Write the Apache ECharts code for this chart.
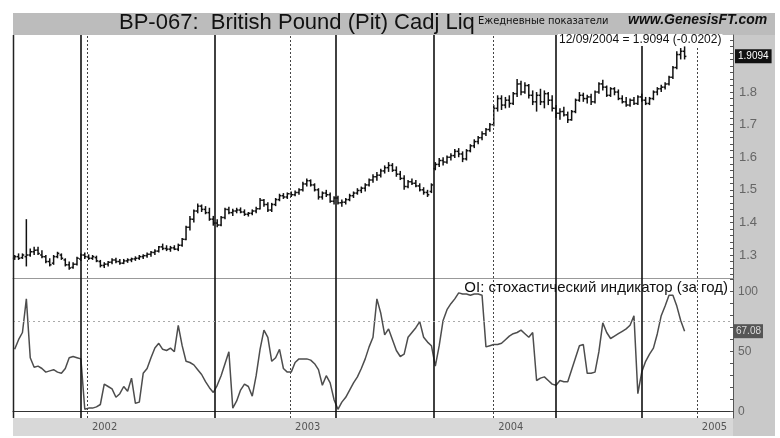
<!DOCTYPE html>
<html><head><meta charset="utf-8">
<script src="https://cdn.jsdelivr.net/npm/echarts@6/dist/echarts.min.js"></script>
<style>html,body{margin:0;padding:0;background:#fff}#c{width:780px;height:438px}</style>
</head><body><div id="c"></div>
<script>
// ---- data (weekly bars, first week 2001-08-24) ----
const firstWeek = '2001-08-24';
const open = [
1.290,1.295,1.292,1.295,1.300,1.310,1.315,1.300,1.295,1.280,
1.275,1.295,1.300,1.285,1.270,1.262,1.272,1.288,1.300,1.295,
1.290,1.292,1.280,1.268,1.272,1.278,1.285,1.280,1.275,1.282,
1.285,1.288,1.290,1.295,1.298,1.302,1.308,1.312,1.325,1.320,
1.318,1.322,1.318,1.330,1.348,1.385,1.410,1.435,1.450,1.440,
1.430,1.410,1.398,1.392,1.415,1.440,1.430,1.435,1.438,1.432,
1.425,1.428,1.435,1.442,1.468,1.455,1.438,1.455,1.470,1.482,
1.478,1.488,1.485,1.492,1.500,1.518,1.528,1.515,1.500,1.478,
1.490,1.485,1.465,1.475,1.460,1.462,1.470,1.482,1.490,1.498,
1.505,1.515,1.530,1.540,1.545,1.558,1.568,1.575,1.560,1.548,
1.535,1.510,1.525,1.520,1.512,1.500,1.492,1.495,1.565,1.578,
1.590,1.585,1.600,1.605,1.618,1.610,1.595,1.620,1.635,1.648,
1.660,1.672,1.685,1.700,1.750,1.780,1.760,1.775,1.765,1.795,
1.825,1.800,1.820,1.790,1.770,1.790,1.770,1.795,1.775,1.750,
1.735,1.740,1.730,1.715,1.740,1.775,1.790,1.780,1.785,1.770,
1.800,1.825,1.815,1.790,1.810,1.800,1.780,1.770,1.760,1.775,
1.765,1.785,1.775,1.765,1.780,1.800,1.810,1.815,1.825,1.845,
1.875,1.915,1.925];
const high = [
1.300,1.305,1.305,1.410,1.320,1.325,1.325,1.315,1.300,1.290,
1.300,1.310,1.305,1.290,1.280,1.278,1.295,1.305,1.308,1.302,
1.300,1.298,1.285,1.278,1.282,1.290,1.292,1.288,1.288,1.290,
1.292,1.296,1.300,1.302,1.308,1.312,1.318,1.328,1.335,1.330,
1.328,1.330,1.335,1.352,1.390,1.420,1.440,1.458,1.455,1.450,
1.445,1.420,1.410,1.420,1.445,1.448,1.442,1.445,1.446,1.440,
1.432,1.440,1.448,1.475,1.472,1.462,1.460,1.475,1.488,1.490,
1.492,1.495,1.498,1.505,1.525,1.535,1.532,1.520,1.505,1.495,
1.500,1.492,1.480,1.482,1.470,1.475,1.488,1.495,1.505,1.510,
1.520,1.535,1.548,1.555,1.565,1.575,1.585,1.582,1.572,1.558,
1.545,1.530,1.535,1.530,1.520,1.508,1.500,1.520,1.585,1.598,
1.600,1.605,1.612,1.625,1.628,1.618,1.625,1.640,1.655,1.665,
1.680,1.690,1.705,1.760,1.790,1.790,1.785,1.790,1.800,1.840,
1.835,1.830,1.825,1.805,1.800,1.810,1.805,1.800,1.790,1.760,
1.750,1.755,1.740,1.745,1.780,1.800,1.798,1.792,1.795,1.805,
1.830,1.838,1.820,1.815,1.815,1.808,1.790,1.785,1.780,1.785,
1.790,1.795,1.785,1.785,1.805,1.815,1.822,1.830,1.850,1.880,
1.925,1.935,1.940];
const low = [
1.285,1.285,1.288,1.265,1.295,1.300,1.300,1.290,1.275,1.265,
1.270,1.290,1.285,1.265,1.255,1.258,1.268,1.282,1.288,1.285,
1.285,1.278,1.262,1.260,1.265,1.272,1.275,1.270,1.272,1.276,
1.278,1.282,1.285,1.288,1.292,1.295,1.300,1.308,1.315,1.312,
1.310,1.315,1.312,1.325,1.345,1.375,1.400,1.428,1.432,1.425,
1.405,1.390,1.385,1.388,1.410,1.425,1.420,1.428,1.428,1.420,
1.418,1.422,1.428,1.440,1.448,1.432,1.432,1.450,1.465,1.472,
1.472,1.478,1.480,1.485,1.495,1.510,1.510,1.495,1.470,1.470,
1.478,1.460,1.455,1.455,1.448,1.455,1.465,1.475,1.485,1.490,
1.495,1.510,1.522,1.528,1.538,1.550,1.555,1.555,1.540,1.530,
1.500,1.505,1.515,1.508,1.495,1.485,1.478,1.490,1.560,1.570,
1.575,1.580,1.590,1.598,1.600,1.585,1.590,1.615,1.628,1.640,
1.652,1.665,1.678,1.695,1.740,1.745,1.750,1.752,1.760,1.785,
1.790,1.795,1.780,1.760,1.740,1.760,1.750,1.760,1.740,1.720,
1.715,1.725,1.705,1.712,1.735,1.770,1.770,1.765,1.760,1.765,
1.795,1.805,1.785,1.785,1.790,1.775,1.765,1.755,1.755,1.760,
1.760,1.770,1.760,1.760,1.775,1.790,1.800,1.808,1.820,1.840,
1.870,1.900,1.900];
const close = [
1.295,1.290,1.300,1.300,1.310,1.315,1.305,1.295,1.280,1.270,
1.295,1.305,1.290,1.270,1.260,1.272,1.290,1.300,1.295,1.290,
1.295,1.282,1.268,1.272,1.278,1.285,1.280,1.275,1.282,1.285,
1.288,1.290,1.295,1.298,1.302,1.308,1.312,1.325,1.320,1.318,
1.322,1.318,1.330,1.348,1.385,1.410,1.435,1.450,1.440,1.430,
1.410,1.398,1.392,1.415,1.440,1.430,1.435,1.438,1.432,1.425,
1.428,1.435,1.442,1.468,1.455,1.438,1.455,1.470,1.482,1.478,
1.488,1.485,1.492,1.500,1.518,1.528,1.515,1.500,1.478,1.490,
1.485,1.465,1.475,1.460,1.462,1.470,1.482,1.490,1.498,1.505,
1.515,1.530,1.540,1.545,1.558,1.568,1.575,1.560,1.548,1.535,
1.510,1.525,1.520,1.512,1.500,1.492,1.485,1.515,1.578,1.590,
1.585,1.600,1.605,1.618,1.610,1.595,1.620,1.635,1.648,1.660,
1.672,1.685,1.700,1.750,1.780,1.760,1.775,1.765,1.795,1.825,
1.800,1.820,1.790,1.770,1.790,1.770,1.795,1.775,1.750,1.735,
1.740,1.730,1.715,1.740,1.775,1.790,1.780,1.785,1.770,1.800,
1.825,1.815,1.790,1.810,1.800,1.780,1.770,1.760,1.775,1.765,
1.785,1.775,1.765,1.780,1.800,1.810,1.815,1.825,1.845,1.875,
1.915,1.925,1.9094];
const stoch = [
52,60,66,94,45,37,38,36,33,34,
35,33,32,36,45,46,45,44,2,3,
3,4,6,23,21,19,12,15,21,17,
28,7,8,32,36,45,53,57,52,51,
53,50,72,55,42,41,39,35,31,25,
20,16,22,30,40,50,3,9,18,23,
21,13,30,52,68,62,42,45,52,36,
33,33,41,44,44,44,43,40,35,22,
30,24,10,2,8,12,18,24,29,36,
44,54,62,94,82,64,69,60,51,46,
48,62,66,70,75,62,58,55,38,55,
76,85,90,94,99,98,98,97,98,98,
97,54,55,56,56,57,60,63,65,66,
68,65,62,66,26,28,29,26,23,22,
26,25,25,35,45,55,56,32,32,33,
50,74,66,61,63,65,67,69,72,80,
15,33,42,48,53,65,80,88,97,97,
88,76,67.08];
const rollDates = ['2001-12-21','2002-08-19','2003-03-24','2003-09-16','2004-04-22','2004-09-24'];
const yearStarts = ['2002-01-01','2003-01-01','2004-01-01','2005-01-01'];
const priceTickLabels = [1.3,1.4,1.5,1.6,1.7,1.8];
const stochTickLabels = [0,50,100];
const stochGridLevel = 75;
const lastDate = '12/09/2004';
const lastPrice = 1.9094;
const lastChange = -0.0202;
const lastStoch = 67.08;
const titleText = 'BP-067:  British Pound (Pit) Cadj Liq';
const subText = 'Ежедневные показатели';
const siteText = 'www.GenesisFT.com';
const oiText = 'OI: стохастический индикатор (за год)';

// ---- build ----
const ts = s => new Date(s + 'T00:00:00Z').getTime();
const DAY = 86400000;
const t0 = ts(firstWeek);
const dates = close.map((_, i) => t0 + i * 7 * DAY);
const ohlc = dates.map((d, i) => [d, open[i], high[i], low[i], close[i]]);
const stochData = dates.map((d, i) => [d, stoch[i]]);
const xMin = ts('2001-08-21'), xMax = ts('2005-03-07');
const priceMinorTicks = []; for (let v = 124; v <= 196; v += 2) priceMinorTicks.push(v / 100);
const stochMinorTicks = []; for (let v = 0; v <= 110; v += 10) stochMinorTicks.push(v);

const vLines = [
  ...rollDates.map(d => ({xAxis: ts(d), lineStyle: {color: '#111', width: 1.6, type: 'solid'}})),
  ...yearStarts.map(d => ({xAxis: ts(d), lineStyle: {color: '#444', width: 1, type: [2, 2]}}))
];

const chart = echarts.init(document.getElementById('c'), null, {renderer: 'canvas'});
const F = '"Liberation Sans", Arial, sans-serif';
const NF = '"Liberation Sans Narrow","DejaVu Sans Condensed",sans-serif';
chart.setOption({
  animation: false,
  backgroundColor: 'transparent',
  graphic: [
    {type: 'rect', z: -10, shape: {x: 13, y: 13, width: 762, height: 423}, style: {fill: '#c9c9c9'}},
    {type: 'rect', z: -10, shape: {x: 13, y: 13, width: 762, height: 22}, style: {fill: '#bcbcbc'}},
    {type: 'rect', z: -10, shape: {x: 13, y: 418, width: 720, height: 18}, style: {fill: '#d8d8d8'}},
    {type: 'rect', z: -9, shape: {x: 13, y: 35, width: 720, height: 383}, style: {fill: '#ffffff'}},
    {type: 'line', z: 50, shape: {x1: 13.5, y1: 35, x2: 13.5, y2: 418}, style: {stroke: '#222', lineWidth: 1.5}},
    {type: 'text', z: 50, left: 119, top: 12, style: {text: titleText, font: '22px ' + F, fill: '#111'}},
    {type: 'text', z: 50, left: 478, top: 16, style: {text: subText, font: '11px ' + NF, fill: '#111'}},
    {type: 'text', z: 50, left: 628, top: 13, style: {text: siteText, font: 'italic bold 14px ' + F, fill: '#111'}},
    {type: 'text', z: 50, left: 558, top: 34, style: {text: lastDate + ' = ' + lastPrice.toFixed(4) + ' (' + lastChange.toFixed(4) + ')', font: '12px ' + F, fill: '#111', backgroundColor: '#fff', padding: [0, 1]}},
    {type: 'text', z: 50, right: 52, top: 280, style: {text: oiText, font: '15px ' + F, fill: '#111'}}
  ],
  grid: [
    {left: 13, right: 47, top: 35, height: 243},
    {left: 13, right: 47, top: 278, height: 140}
  ],
  xAxis: [
    {type: 'value', gridIndex: 0, min: xMin, max: xMax,
     axisLine: {show: true, lineStyle: {color: '#999', width: 1}}, axisTick: {show: false},
     axisLabel: {show: false}, splitLine: {show: false}},
    {type: 'value', gridIndex: 1, min: xMin, max: xMax,
     axisLine: {show: true, lineStyle: {color: '#333', width: 1}}, axisTick: {show: false},
     axisLabel: {customValues: yearStarts.map(ts), formatter: v => String(new Date(v).getUTCFullYear()),
       align: 'left', padding: [0, 0, 0, 5], color: '#555', fontSize: 11, margin: 4, fontFamily: NF},
     splitLine: {show: false}}
  ],
  yAxis: [
    {type: 'value', gridIndex: 0, position: 'right', min: 1.2295, max: 1.975,
     axisLine: {show: true, lineStyle: {color: '#555', width: 1}},
     axisTick: {show: true, inside: true, length: 3, customValues: priceMinorTicks, lineStyle: {color: '#555'}},
     axisLabel: {customValues: priceTickLabels, formatter: v => v.toFixed(1), color: '#666', fontSize: 13, margin: 6, fontFamily: F},
     splitLine: {show: false}},
    {type: 'value', gridIndex: 1, position: 'right', min: -5.25, max: 111.4,
     axisLine: {show: true, lineStyle: {color: '#555', width: 1}},
     axisTick: {show: true, inside: true, length: 3, customValues: stochMinorTicks, lineStyle: {color: '#555'}},
     axisLabel: {customValues: stochTickLabels, color: '#666', fontSize: 12, margin: 5, fontFamily: F},
     splitLine: {show: false}}
  ],
  series: [
    {type: 'custom', xAxisIndex: 0, yAxisIndex: 0, data: ohlc, encode: {x: 0, y: [1, 2, 3, 4]},
     renderItem: (params, api) => {
       const x = api.value(0);
       const o = api.coord([x, api.value(1)]);
       const h = api.coord([x, api.value(2)]);
       const l = api.coord([x, api.value(3)]);
       const c = api.coord([x, api.value(4)]);
       const st = {stroke: '#111', lineWidth: 1.5};
       return {type: 'group', children: [
         {type: 'line', shape: {x1: h[0], y1: h[1], x2: l[0], y2: l[1]}, style: st},
         {type: 'line', shape: {x1: o[0] - 1.8, y1: o[1], x2: o[0], y2: o[1]}, style: st},
         {type: 'line', shape: {x1: c[0], y1: c[1], x2: c[0] + 1.8, y2: c[1]}, style: st}
       ]};
     },
     markLine: {silent: true, symbol: 'none', label: {show: false}, data: [
       ...vLines,
       {yAxis: lastPrice, lineStyle: {width: 0, color: 'rgba(0,0,0,0)'},
        label: {show: true, position: 'end', distance: 2, formatter: lastPrice.toFixed(4),
          backgroundColor: '#111', color: '#fff', fontSize: 10, padding: [2, 3], fontFamily: F}}
     ]}
    },
    {type: 'line', xAxisIndex: 1, yAxisIndex: 1, data: stochData, symbol: 'none',
     lineStyle: {color: '#4d4d4d', width: 1.5}, z: 3,
     markLine: {silent: true, symbol: 'none', label: {show: false}, data: [
       ...vLines,
       {yAxis: stochGridLevel, lineStyle: {color: '#aaa', width: 1, type: [2, 3]}},
       {yAxis: lastStoch, lineStyle: {width: 0, color: 'rgba(0,0,0,0)'},
        label: {show: true, position: 'end', distance: 1, formatter: lastStoch.toFixed(2),
          backgroundColor: '#555', color: '#ddd', fontSize: 10, padding: [2, 2], fontFamily: F}}
     ]}
    }
  ]
});
</script></body></html>
